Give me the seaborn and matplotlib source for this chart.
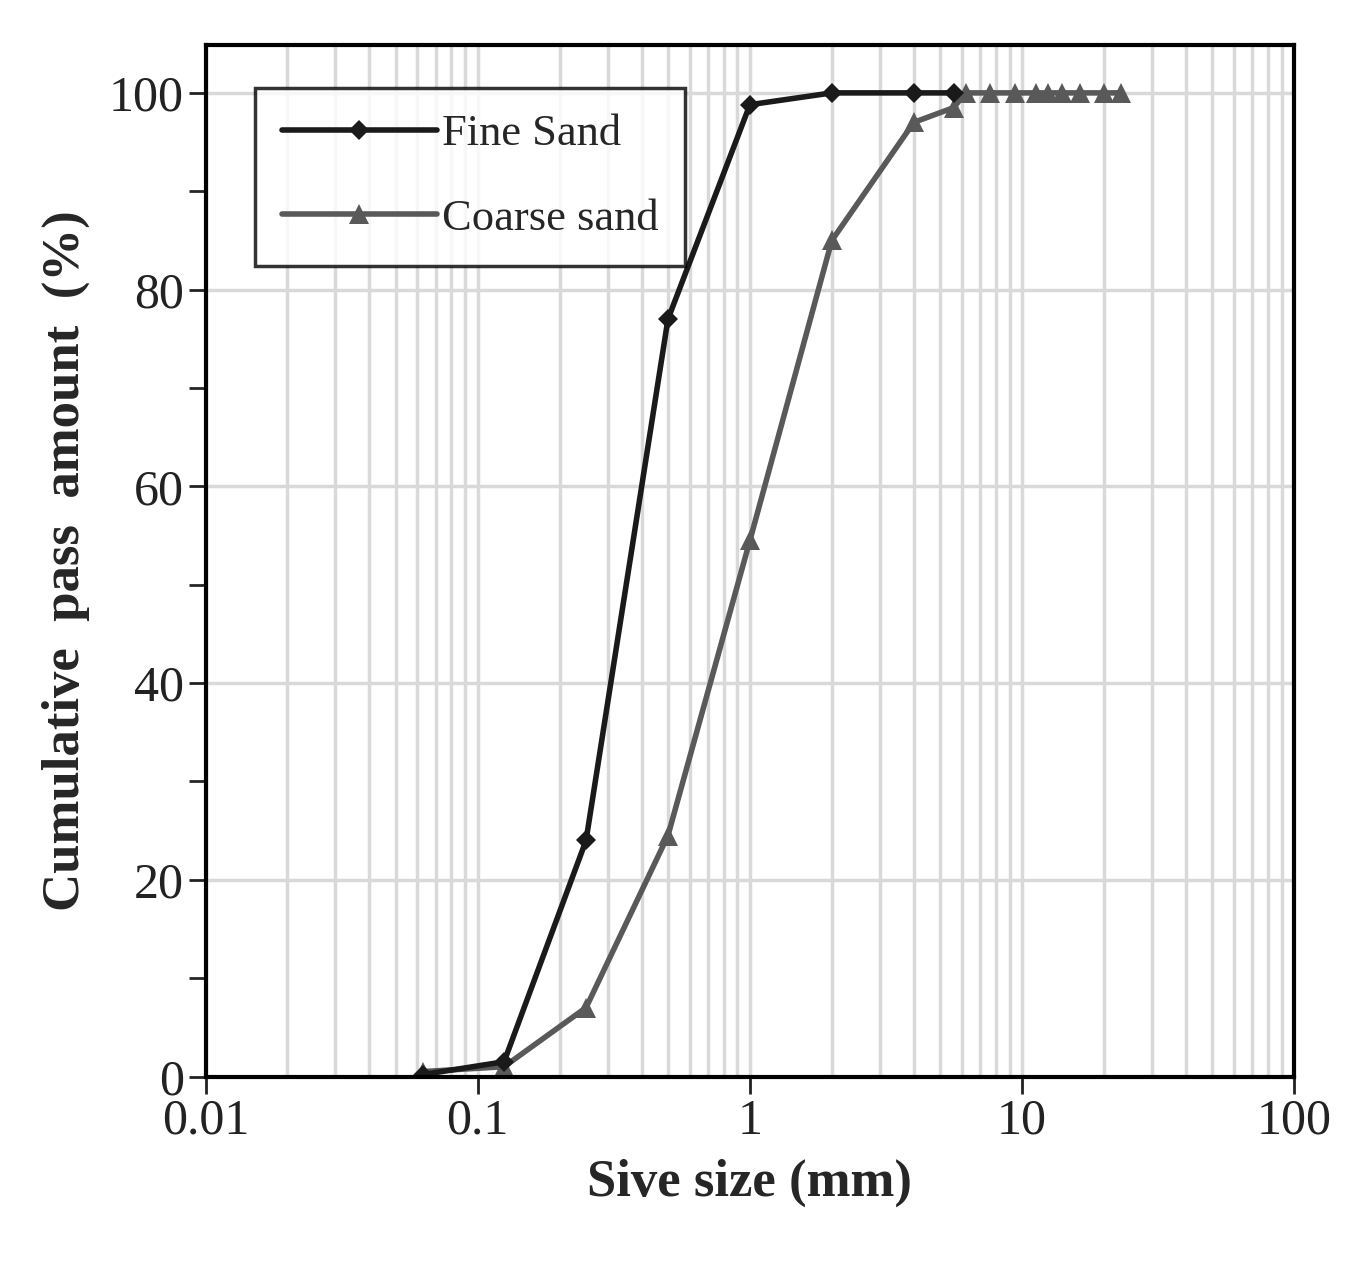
import matplotlib
matplotlib.use("Agg")
import matplotlib.pyplot as plt
import seaborn as sns
import pandas as pd
from matplotlib.ticker import LogLocator, MultipleLocator, FixedLocator, FixedFormatter

fine_x = [0.063, 0.125, 0.25, 0.5, 1, 2, 4, 5.6]
fine_y = [0.2, 1.5, 24, 77, 98.8, 100, 100, 100]
coarse_x = [0.063, 0.125, 0.25, 0.5, 1, 2, 4, 5.6, 6.2, 7.6, 9.4, 11.2, 12.5, 14, 16.3, 20, 23]
coarse_y = [0.5, 1, 7, 24.5, 54.5, 85, 97, 98.5, 100, 100, 100, 100, 100, 100, 100, 100, 100]
xtick_vals = [0.01, 0.1, 1, 10, 100]
xtick_labels = ["0.01", "0.1", "1", "10", "100"]

sns.set_theme(style="white")
plt.rcParams['font.family'] = ['Liberation Serif', 'DejaVu Serif']

fig = plt.figure(figsize=(13.61, 12.77), dpi=100)
ax = fig.add_axes([0.151, 0.157, 0.80, 0.808])

df = pd.concat([
    pd.DataFrame({"x": fine_x, "y": fine_y, "s": "Fine Sand"}),
    pd.DataFrame({"x": coarse_x, "y": coarse_y, "s": "Coarse sand"}),
])
sns.lineplot(data=df[df.s == "Coarse sand"], x="x", y="y", ax=ax, color="#595959",
             marker="^", markersize=15, linewidth=4, label="Coarse sand", markeredgewidth=0)
sns.lineplot(data=df[df.s == "Fine Sand"], x="x", y="y", ax=ax, color="#1a1a1a",
             marker="D", markersize=10, linewidth=4, label="Fine Sand", markeredgewidth=0)

ax.set_xscale("log")
ax.set_xlim(0.01, 100)
ax.set_ylim(0, 104.9)
ax.xaxis.set_major_locator(FixedLocator(xtick_vals))
ax.xaxis.set_major_formatter(FixedFormatter(xtick_labels))
ax.xaxis.set_minor_locator(LogLocator(base=10, subs=range(2, 10), numticks=20))
ax.yaxis.set_major_locator(MultipleLocator(20))
ax.yaxis.set_minor_locator(MultipleLocator(10))
ax.grid(True, which="both", axis="x", color="#d9d9d9", linewidth=2.5)
ax.grid(True, which="major", axis="y", color="#d9d9d9", linewidth=2.5)
ax.tick_params(axis="both", which="major", labelsize=36, length=12, width=2, direction="out",
               bottom=True, left=True, colors="#222222")
ax.tick_params(axis="y", which="minor", length=12, width=2, direction="out", left=True)
ax.tick_params(axis="x", which="minor", length=0)
for sp in ax.spines.values():
    sp.set_color("black"); sp.set_linewidth(3)
ax.set_xlabel("Sive size (mm)", fontsize=38, fontweight="bold", labelpad=10)
ax.set_ylabel("Cumulative  pass  amount  (%)", fontsize=38, fontweight="bold", labelpad=14)

h, l = ax.get_legend_handles_labels()
leg = ax.legend(h[::-1], l[::-1], loc="upper left", fontsize=32, frameon=True, fancybox=False,
                handlelength=3.5, borderpad=0.6, labelspacing=1.0, handletextpad=0.1,
                bbox_to_anchor=(0.025, 0.98))
leg.get_frame().set_edgecolor("black"); leg.get_frame().set_linewidth(2.5)

fig.savefig("out.png", dpi=100, facecolor="white")
